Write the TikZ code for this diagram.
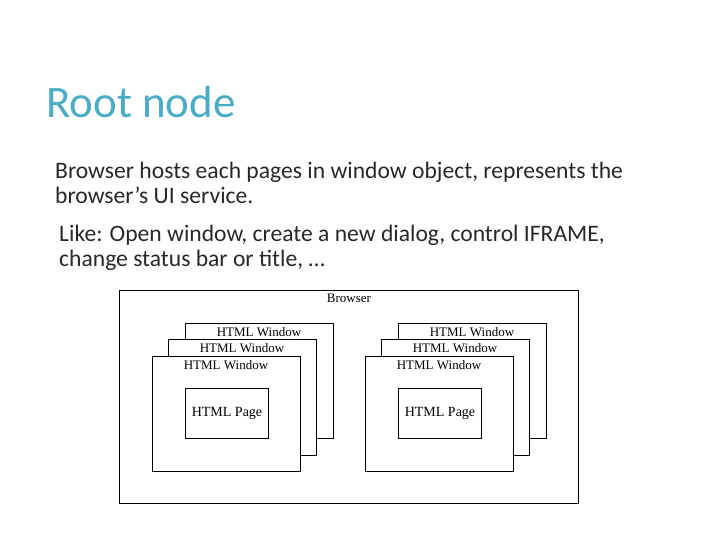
\documentclass[tikz,border=0pt]{standalone}
\usepackage{fontspec}
\setmainfont{Carlito}
\newfontfamily\tms{Liberation Serif}
\begin{document}
\begin{tikzpicture}[x=1pt,y=-1pt,
  box/.style={draw=black,line width=1pt,fill=white,anchor=north west,inner sep=0pt},
  wlbl/.style={font=\tms\fontsize{13}{13}\selectfont,anchor=north,inner sep=0pt},
  body/.style={font=\fontsize{23.6}{24.5}\selectfont,anchor=north west,inner sep=0pt,align=left,text={rgb,255:red,40;green,40;blue,40}}]
\useasboundingbox (0,0) rectangle (720,540);
\node[anchor=base west,inner sep=0pt,text={rgb,255:red,75;green,172;blue,198},font=\fontsize{45}{45}\selectfont] (title) at (46,118) {Root node};
\node[body] (p1) at (55,162) {Browser hosts each pages in window object, represents the\\browser’s UI service.};
\node[body] (p2) at (59,225) {Like: Open window, create a new dialog, control IFRAME,\\change status bar or title, …};
\node[draw=black,line width=0.8pt,anchor=north west,minimum width=459pt,minimum height=213pt,inner sep=0pt] (br) at (119,290) {};
\node[wlbl] (brl) at (349,294) {Browser};
\foreach \dx/\s in {0/L,213/R}{
  \node[box,minimum width=148pt,minimum height=115pt] (b\s) at (185+\dx,323) {};
  \node[wlbl] at (259+\dx,327) {HTML Window};
  \node[box,minimum width=148pt,minimum height=116pt] (m\s) at (168+\dx,339) {};
  \node[wlbl] at (242+\dx,343) {HTML Window};
  \node[box,minimum width=148pt,minimum height=115pt] (f\s) at (152+\dx,356) {};
  \node[wlbl] at (226+\dx,360) {HTML Window};
  \node[box,minimum width=83pt,minimum height=50pt,font=\tms\fontsize{14}{14}\selectfont] (pg\s) at (185+\dx,388) {HTML Page};
}
\end{tikzpicture}
\end{document}
